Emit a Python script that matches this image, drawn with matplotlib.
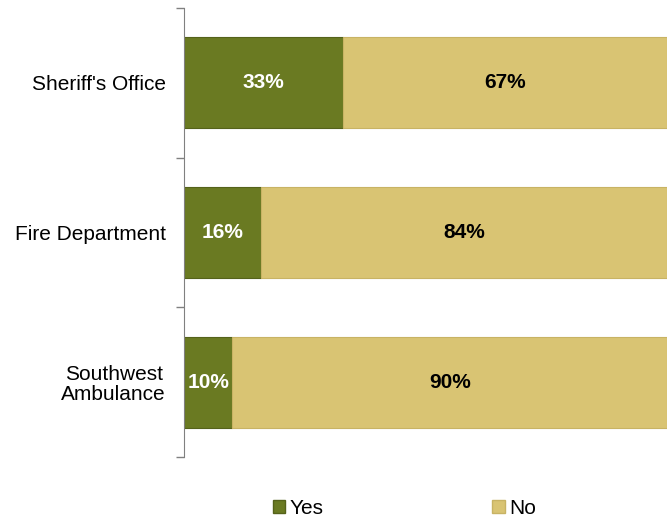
import matplotlib
matplotlib.use("Agg")
import matplotlib.pyplot as plt
from matplotlib.patches import Patch
import numpy as np

categories = ["Sheriff's Office", "Fire Department", "Southwest\nAmbulance"]
yes_vals = [33, 16, 10]
no_vals = [67, 84, 90]
series_names = ["Yes", "No"]

plt.rcParams['font.family'] = ['Liberation Sans', 'DejaVu Sans']

green = "#6a7a22"
yellow = "#d9c473"

fig = plt.figure(figsize=(6.67, 5.18), dpi=100)
ax = fig.add_axes([184/667, 1-457/518, 483/667, 449/518])

y = np.arange(len(categories))
h = 0.61
ax.barh(y, yes_vals, height=h, color=green, edgecolor="#55621a", linewidth=0.8)
ax.barh(y, no_vals, left=yes_vals, height=h, color=yellow, edgecolor="#c8b364", linewidth=0.8)

for i in range(len(categories)):
    ax.text(yes_vals[i]/2, y[i], f"{yes_vals[i]}%", ha="center", va="center",
            color="white", fontsize=15, fontweight="bold")
    ax.text(yes_vals[i] + no_vals[i]/2, y[i], f"{no_vals[i]}%", ha="center", va="center",
            color="black", fontsize=15, fontweight="bold")

ax.set_xlim(0, 100)
ax.set_ylim(len(categories)-0.5, -0.5)
ax.set_yticks(y)
ax.set_yticklabels(categories, fontsize=15, multialignment="center", linespacing=1.05)
ax.tick_params(axis="y", which="major", length=0, pad=13)
ax.set_yticks(np.arange(-0.5, len(categories), 1), minor=True)
ax.tick_params(axis="y", which="minor", length=6, color="#808080", width=1)
ax.set_xticks([])
for s in ["top", "right", "bottom"]:
    ax.spines[s].set_visible(False)
ax.spines["left"].set_color("#808080")

handles = [Patch(facecolor=green, edgecolor="#55621a"), Patch(facecolor=yellow, edgecolor="#c8b364")]
fig.legend(handles, series_names, loc="center", bbox_to_anchor=(0.606, 0.019), ncol=2,
           frameon=False, fontsize=15, handlelength=0.6, handleheight=0.6,
           handletextpad=0.2, columnspacing=8.1, borderpad=0)

fig.savefig("out.png", dpi=100)
